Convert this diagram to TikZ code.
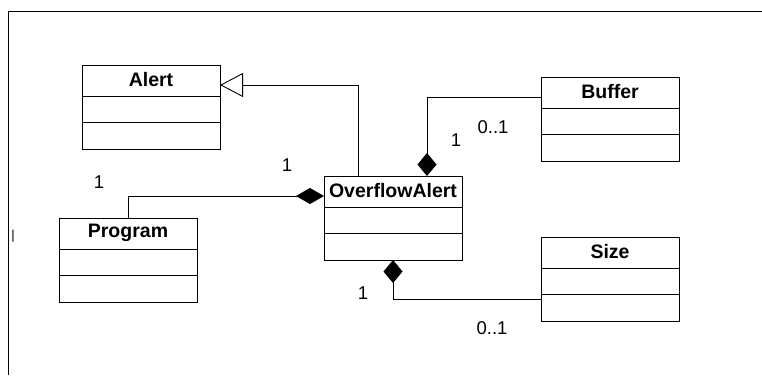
\documentclass[tikz,border=0pt]{standalone}
\usepackage{fontspec}
\setmainfont{Liberation Sans}
\usetikzlibrary{arrows.meta}
\begin{document}
\begin{tikzpicture}[x=1pt,y=-1pt,line width=0.9pt,
  classbox/.style={draw,rectangle,minimum width=138pt,minimum height=84pt,anchor=north west,inner sep=0pt,outer sep=0pt},
  classname/.style={font=\fontsize{19.5}{19.5}\selectfont\bfseries,inner sep=0pt,anchor=center},
  mult/.style={font=\fontsize{18.5}{18.5}\selectfont,inner sep=0pt,anchor=center},
  compo/.style={-{Diamond[length=23pt,width=19pt,fill=black]}},
  compoh/.style={-{Diamond[length=28pt,width=16pt,fill=black]}},
  gener/.style={-{Triangle[open,length=23pt,width=24pt,fill=white]}}]
\useasboundingbox (0,0) rectangle (762,375);
% frame
\draw (8,375) -- (8,11) -- (762,11);
% classes
\node[classbox] (alert) at (82,65) {};
\node[classbox] (buffer) at (541,77) {};
\node[classbox] (overflow) at (324,176) {};
\node[classbox] (program) at (59,218) {};
\node[classbox] (size) at (541,237) {};
\foreach \n/\t in {alert/Alert,buffer/Buffer,overflow/OverflowAlert,program/Program,size/Size}{
  \node[classname] (\n-title) at ([yshift=-15pt]\n.north) {\t};
  \draw ([yshift=-31pt]\n.north west) -- ([yshift=-31pt]\n.north east);
  \draw ([yshift=-57.5pt]\n.north west) -- ([yshift=-57.5pt]\n.north east);
}
% connectors
\coordinate (g1) at ([xshift=-35pt]overflow.north);
\draw[gener] (g1) |- ([yshift=-20pt]alert.north east);
\draw[compoh] (program.north) |- ([yshift=-20pt]overflow.north west);
\draw[compo] ([yshift=-20pt]buffer.north west) -| ([xshift=34pt]overflow.north);
\draw[compo] ([yshift=-62pt]size.north west) -| (overflow.south);
% multiplicities
\node[mult] (m1) at (99,182) {1};
\node[mult] (m2) at (287,165) {1};
\node[mult] (m3) at (456,140) {1};
\node[mult] (m4) at (493,127) {0..1};
\node[mult] (m5) at (363,293) {1};
\node[mult] (m6) at (492,328) {0..1};
\node[mult,font=\fontsize{13}{13}\selectfont] (tick) at (13,236) {|};
\end{tikzpicture}
\end{document}
